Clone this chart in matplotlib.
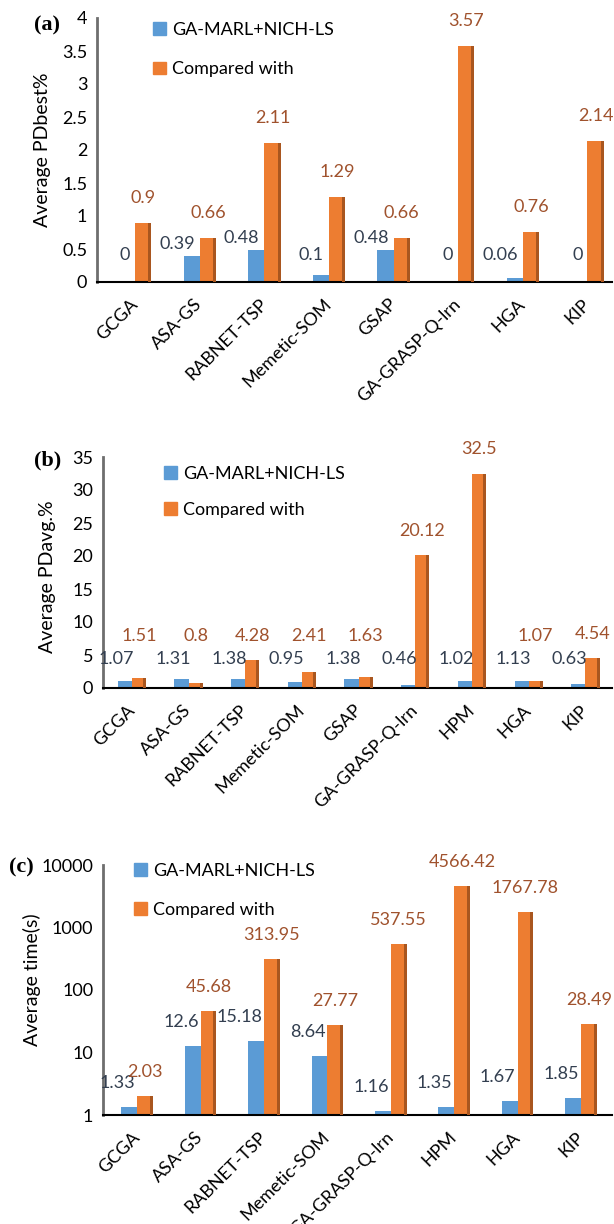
import numpy as np
import matplotlib.pyplot as plt
from matplotlib.patches import Patch

# panel (a): average PDbest %
cats_a = ['GCGA', 'ASA-GS', 'RABNET-TSP', 'Memetic-SOM', 'GSAP', 'GA-GRASP-Q-lrn', 'HGA', 'KIP']
ours_a = [0, 0.39, 0.48, 0.1, 0.48, 0, 0.06, 0]
other_a = [0.9, 0.66, 2.11, 1.29, 0.66, 3.57, 0.76, 2.14]
lab_ours_a = ['0', '0.39', '0.48', '0.1', '0.48', '0', '0.06', '0']
lab_other_a = ['0.9', '0.66', '2.11', '1.29', '0.66', '3.57', '0.76', '2.14']

# panel (b): average PDavg %
cats_b = ['GCGA', 'ASA-GS', 'RABNET-TSP', 'Memetic-SOM', 'GSAP', 'GA-GRASP-Q-lrn', 'HPM', 'HGA', 'KIP']
ours_b = [1.07, 1.31, 1.38, 0.95, 1.38, 0.46, 1.02, 1.13, 0.63]
other_b = [1.51, 0.8, 4.28, 2.41, 1.63, 20.12, 32.5, 1.07, 4.54]
lab_ours_b = ['1.07', '1.31', '1.38', '0.95', '1.38', '0.46', '1.02', '1.13', '0.63']
lab_other_b = ['1.51', '0.8', '4.28', '2.41', '1.63', '20.12', '32.5', '1.07', '4.54']

# panel (c): average time (s), log axis
cats_c = ['GCGA', 'ASA-GS', 'RABNET-TSP', 'Memetic-SOM', 'GA-GRASP-Q-lrn', 'HPM', 'HGA', 'KIP']
ours_c = [1.33, 12.6, 15.18, 8.64, 1.16, 1.35, 1.67, 1.85]
other_c = [2.03, 45.68, 313.95, 27.77, 537.55, 4566.42, 1767.78, 28.49]
lab_ours_c = ['1.33', '12.6', '15.18', '8.64', '1.16', '1.35', '1.67', '1.85']
lab_other_c = ['2.03', '45.68', '313.95', '27.77', '537.55', '4566.42', '1767.78', '28.49']

series_names = ['GA-MARL+NICH-LS', 'Compared with']

BLUE = '#5B9BD5'
ORANGE = '#ED7D31'
ORANGE_DARK = '#A9561F'
BLUE_TXT = '#333F50'
ORANGE_TXT = '#A0522D'

plt.rcParams['font.family'] = ['Lato', 'DejaVu Sans']
FS = 13

W, H = 614, 1224
fig = plt.figure(figsize=(W / 100, H / 100), dpi=100)


def px_axes(left, top, right, bottom):
    return fig.add_axes([left / W, 1 - bottom / H, (right - left) / W, (bottom - top) / H])


def put_label(ax, x, v, text, color, gap, floor, ha, dx):
    y0 = ax.get_ylim()[0]
    base = ax.transData.transform((x, y0))[1]
    top = ax.transData.transform((x, max(v, y0)))[1]
    ypx = max(top + gap, base + floor)
    y = ax.transData.inverted().transform((0, ypx))[1]
    ax.annotate(text, (x, y), xytext=(dx, 0), textcoords='offset pixels',
                ha=ha, va='center', color=color, fontsize=FS, annotation_clip=False)


def panel(box, cats, ours, other, lab_o, lab_c, xlim, ylim, yticks, ytlabels,
          ylabel, ylab_pos, tag, tag_pos, leg_pos, logy=False,
          blue_gap=12, blue_floor=0, blue_dx=-4, or_gap=24, or_floor=0, spacing=1.0):
    ax = px_axes(*box)
    x = np.arange(len(cats))
    w = 0.25
    ppu = (box[2] - box[0]) / (xlim[1] - xlim[0])
    s = 3 / ppu
    if logy:
        ax.set_yscale('log')
    ax.bar(x - w / 2, ours, w, color=BLUE, zorder=2)
    ax.bar(x + w / 2, other, w, color=ORANGE, zorder=2)
    # darker right edge on the orange bars
    ax.bar(x + w - s / 2, other, s, color=ORANGE_DARK, zorder=3)
    ax.set_xlim(*xlim)
    ax.set_ylim(*ylim)
    ax.set_yticks(yticks)
    ax.set_yticklabels(ytlabels)
    ax.minorticks_off()
    ax.set_xticks(x)
    ax.set_xticklabels(cats, rotation=45, ha='right', va='center', rotation_mode='anchor')
    ax.tick_params(axis='both', length=0, labelsize=FS, colors='black')
    ax.tick_params(axis='y', pad=7)
    ax.tick_params(axis='x', pad=14)
    for sp in ['top', 'right']:
        ax.spines[sp].set_visible(False)
    ax.spines['left'].set_color('#6E6E6E')
    ax.spines['left'].set_linewidth(2.0)
    ax.spines['bottom'].set_color('black')
    ax.spines['bottom'].set_linewidth(1.5)
    ax.set_ylabel(ylabel, fontsize=FS + 1)
    ax.yaxis.set_label_coords(*ylab_pos)
    ax.yaxis.label.set_va('center')

    for i in range(len(cats)):
        put_label(ax, x[i], ours[i], lab_o[i], BLUE_TXT, blue_gap, blue_floor, 'right', blue_dx)
        put_label(ax, x[i] + w / 2, other[i], lab_c[i], ORANGE_TXT, or_gap, or_floor, 'center', 0)

    handles = [Patch(color=BLUE), Patch(color=ORANGE)]
    ax.legend(handles, series_names, loc='upper left', frameon=False, fontsize=FS,
              bbox_to_anchor=(leg_pos[0] / W, 1 - leg_pos[1] / H),
              bbox_transform=fig.transFigure, borderpad=0, borderaxespad=0,
              handlelength=0.7, handleheight=0.7, handletextpad=0.35, labelspacing=spacing)
    fig.text(tag_pos[0] / W, 1 - tag_pos[1] / H, tag, fontsize=16, fontweight='bold',
             family='Liberation Serif', ha='left', va='center')
    return ax


panel((97, 18, 612, 282), cats_a, ours_a, other_a, lab_ours_a, lab_other_a,
      (-0.59, 7.38), (0, 4), np.arange(0, 4.01, 0.5),
      ['0', '0.5', '1', '1.5', '2', '2.5', '3', '3.5', '4'],
      'Average PDbest%', (-0.105, 0.5), '(a)', (34, 25), (153, 22),
      blue_gap=12, blue_floor=27, blue_dx=-5, or_gap=25, spacing=1.3)

panel((103, 457, 612, 688), cats_b, ours_b, other_b, lab_ours_b, lab_other_b,
      (-0.51, 8.47), (0, 35), np.arange(0, 36, 5),
      [str(v) for v in range(0, 36, 5)],
      'Average PDavg.%', (-0.11, 0.48), '(b)', (34, 460), (164, 466),
      blue_gap=10, blue_floor=29, blue_dx=2, or_gap=24, or_floor=52, spacing=1.1)

panel((103, 865, 612, 1115), cats_c, ours_c, other_c, lab_ours_c, lab_other_c,
      (-0.54, 7.49), (1, 10000), [1, 10, 100, 1000, 10000],
      ['1', '10', '100', '1000', '10000'],
      'Average time(s)', (-0.14, 0.54), '(c)', (9, 867), (134, 863),
      logy=True, blue_gap=24, blue_floor=0, blue_dx=-2, or_gap=24, spacing=1.25)

fig.savefig('out.png', dpi=100)
